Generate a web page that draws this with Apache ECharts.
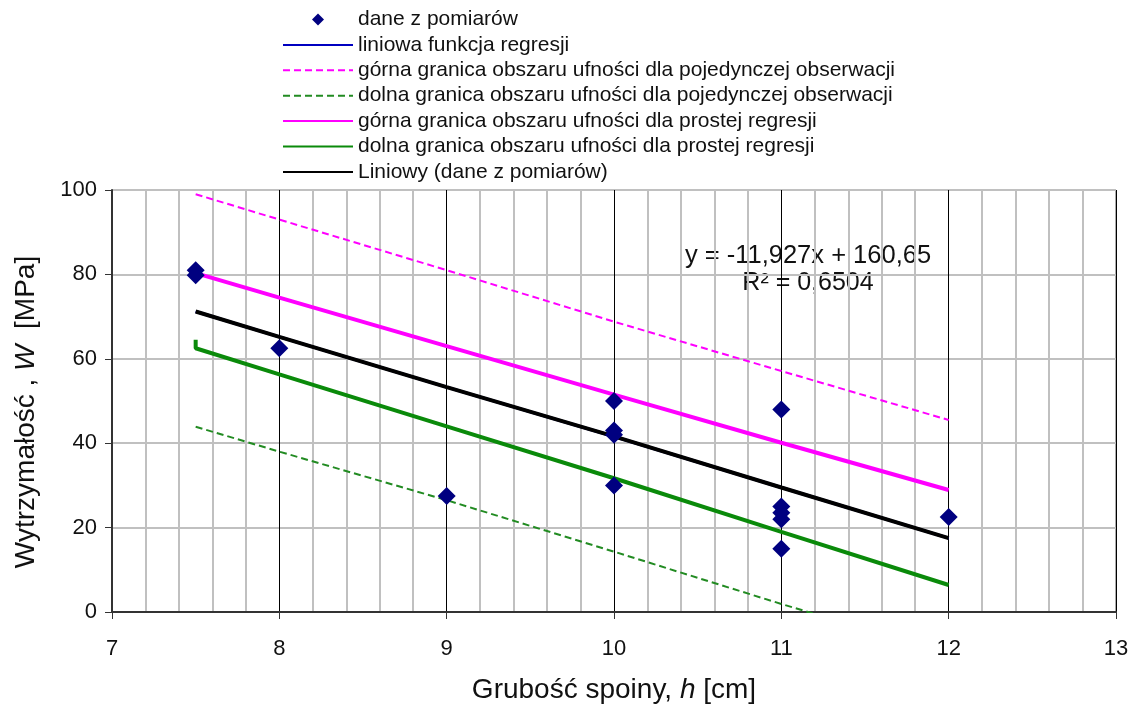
<!DOCTYPE html>
<html>
<head>
<meta charset="utf-8">
<script src="https://cdn.jsdelivr.net/npm/echarts@6/dist/echarts.min.js"></script>
<style>
html,body{margin:0;padding:0;background:#fff;}
#chart{width:1137px;height:711px;}
</style>
</head>
<body>
<div id="chart"></div>
<script>
// Measured data
var hValues = [7.5, 7.5, 8, 9, 10, 10, 10, 10, 11, 11, 11, 11, 11, 12];
var wValues = [81, 79.8, 62.5, 27.5, 50, 43, 42, 30, 48, 25, 23.5, 22, 15, 22.5];

// Lines (x positions and read values)
var lineX = [7.5, 7.5, 8, 9, 10, 11, 12];
var regressionY = [71.2, 71.2, 65.2, 53.3, 41.6, 29.5, 17.5];
var upperPredY = [99.0, 99.0, 93.0, 81.0, 68.8, 57.1, 45.5];
var lowerPredY = [43.9, 43.9, 38.0, 26.5, 14.3, 1.9, -10.0];
var upperConfY = [78.7, 80.3, 74.5, 63.0, 51.5, 40.1, 28.9];
var lowerConfY = [64.5, 62.5, 56.3, 44.0, 31.7, 19.0, 6.4];

var xTicks = [7, 8, 9, 10, 11, 12, 13];
var yTicks = [0, 20, 40, 60, 80, 100];

var names = [
  'dane z pomiarów',
  'liniowa funkcja regresji',
  'górna granica obszaru ufności dla pojedynczej obserwacji',
  'dolna granica obszaru ufności dla pojedynczej obserwacji',
  'górna granica obszaru ufności dla prostej regresji',
  'dolna granica obszaru ufności dla prostej regresji',
  'Liniowy (dane z pomiarów)'
];
var equationText = 'y = -11,927x + 160,65';
var r2Text = 'R² = 0,6504';

function pairs(xs, ys){ return xs.map(function(x,i){ return [x, ys[i]]; }); }

var FONT = '"Liberation Sans", Arial, sans-serif';
var chart = echarts.init(document.getElementById('chart'));

function lineSeries(name, ys, color, width, type, z){
  return {
    name: name, type: 'line', data: pairs(lineX, ys), symbol: 'none',
    lineStyle: {color: color, width: width, type: type},
    itemStyle: {color: color}, z: z, clip: true, animation: false
  };
}

chart.setOption({
  animation: false,
  backgroundColor: '#fff',
  textStyle: {fontFamily: FONT},
  grid: {left: 112, right: 21, top: 190, bottom: 99, show: true, borderColor: '#555', borderWidth: 1, backgroundColor: 'transparent'},
  legend: {
    orient: 'vertical', left: 277, top: 4, itemWidth: 70, itemHeight: 12, itemGap: 4.4,
    itemStyle: {opacity: 0},
    textStyle: {fontFamily: FONT, fontSize: 21, lineHeight: 21, color: '#111'},
    data: [
      {name: names[0], icon: 'path://M0,-1L1,0L0,1L-1,0Z', itemStyle: {opacity: 1}},
      names[1], names[2], names[3], names[4], names[5], names[6]
    ]
  },
  xAxis: {
    type: 'value', min: xTicks[0], max: xTicks[xTicks.length-1], interval: 1,
    name: '{n|Grubość spoiny, }{i|h}{n| [cm]}', nameLocation: 'middle', nameGap: 64,
    nameTextStyle: {rich: {n: {fontFamily: FONT, fontSize: 28, color: '#111'}, i: {fontFamily: FONT, fontSize: 28, fontStyle: 'italic', color: '#111'}}},
    axisLine: {show: true, lineStyle: {color: '#333', width: 2}},
    axisTick: {show: true, length: 7, inside: false, lineStyle: {color: '#333'}},
    axisLabel: {fontFamily: FONT, fontSize: 22, color: '#111', margin: 26},
    splitLine: {show: true, lineStyle: {color: '#000', width: 1}},
    minorTick: {show: false, splitNumber: 5},
    minorSplitLine: {show: true, lineStyle: {color: '#c0c0c0', width: 2}}
  },
  yAxis: {
    type: 'value', min: yTicks[0], max: yTicks[yTicks.length-1], interval: 20,
    name: '{n|Wytrzymałość , }{i|W}{n|  [MPa]}', nameLocation: 'middle', nameGap: 72, nameRotate: 90,
    nameTextStyle: {padding: [0, 22, 0, 0], rich: {n: {fontFamily: FONT, fontSize: 28, color: '#111'}, i: {fontFamily: FONT, fontSize: 28, fontStyle: 'italic', color: '#111'}}},
    axisLine: {show: true, lineStyle: {color: '#333', width: 2}},
    axisTick: {show: true, length: 7, inside: false, lineStyle: {color: '#333'}},
    axisLabel: {fontFamily: FONT, fontSize: 22, color: '#111', margin: 15},
    splitLine: {show: true, lineStyle: {color: '#c0c0c0', width: 2}}
  },
  series: [
    {name: names[0], type: 'scatter', data: pairs(hValues, wValues), symbol: 'diamond', symbolSize: 18,
     itemStyle: {color: '#000080', opacity: 1}, z: 10},
    lineSeries(names[1], regressionY, '#0000c0', 3, 'solid', 3),
    lineSeries(names[2], upperPredY, '#ff00ff', 2, [7, 4], 4),
    lineSeries(names[3], lowerPredY, '#228b22', 2, [7, 4], 4),
    lineSeries(names[4], upperConfY, '#ff00ff', 4, 'solid', 5),
    lineSeries(names[5], lowerConfY, '#0a8a0a', 4, 'solid', 5),
    lineSeries(names[6], regressionY, '#000000', 4, 'solid', 6)
  ],
  graphic: [
    {type: 'text', x: 808, y: 243, style: {text: equationText, font: '25.5px ' + FONT, fill: '#111', textAlign: 'center'}},
    {type: 'text', x: 808, y: 271, style: {text: r2Text, font: '25px ' + FONT, fill: '#111', textAlign: 'center'}}
  ]
});
</script>
</body>
</html>
